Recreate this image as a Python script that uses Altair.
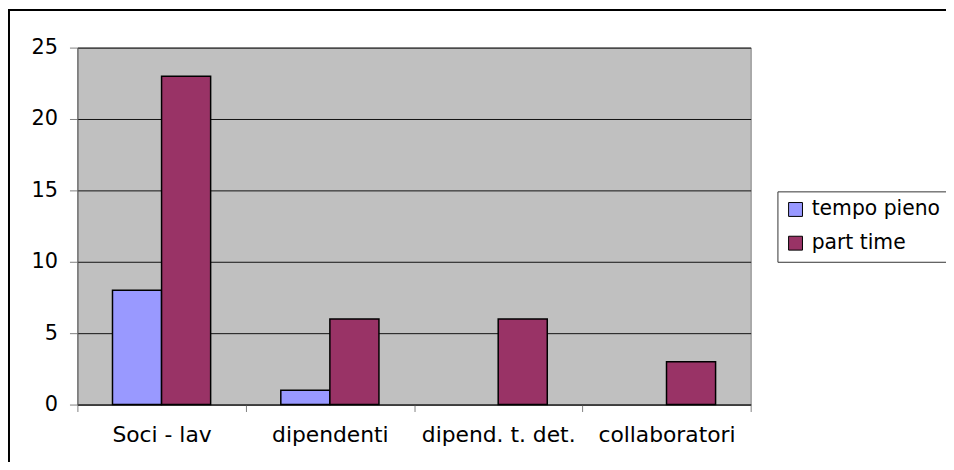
import altair as alt
import pandas as pd

categories = ["Soci - lav", "dipendenti", "dipend. t. det.", "collaboratori"]
series = ["tempo pieno", "part time"]
tempo_pieno = [8, 1, 0, 0]
part_time = [23, 6, 6, 3]
colors = ["#9999FF", "#993366"]
y_ticks = [0, 5, 10, 15, 20, 25]

rows = []
for i, c in enumerate(categories):
    rows.append({"cat": c, "serie": series[0], "val": tempo_pieno[i]})
    rows.append({"cat": c, "serie": series[1], "val": part_time[i]})
df = pd.DataFrame(rows)

FONT = "DejaVu Sans"

bars = alt.Chart(df).mark_bar(stroke="black", strokeWidth=1.5).encode(
    x=alt.X("cat:N", sort=categories, title=None,
            scale=alt.Scale(domain=categories, paddingInner=0, paddingOuter=0),
            axis=alt.Axis(labelAngle=0, tickBand="extent", tickSize=7,
                          tickColor="#808080", domainColor="#222222",
                          labelFont=FONT, labelFontSize=22, labelColor="black",
                          labelPadding=13, grid=False)),
    xOffset=alt.XOffset("serie:N", sort=series,
                        scale=alt.Scale(domain=series, paddingInner=0, paddingOuter=0.715)),
    y=alt.Y("val:Q", title=None,
            scale=alt.Scale(domain=[0, 25], nice=False),
            axis=alt.Axis(values=y_ticks, tickSize=8, tickColor="#808080",
                          domainColor="#606060", gridColor="#111111", gridWidth=1,
                          labelFont=FONT, labelFontSize=21, labelColor="black",
                          labelPadding=12)),
    color=alt.Color("serie:N", sort=series,
                    scale=alt.Scale(domain=series, range=colors),
                    legend=alt.Legend(title=None, orient="none", legendX=706, legendY=145,
                                      padding=8, strokeColor="#333333", fillColor="white",
                                      symbolType="square", symbolSize=196,
                                      symbolStrokeColor="black", symbolStrokeWidth=1,
                                      labelFont=FONT, labelFontSize=20.5, labelColor="black",
                                      labelOffset=6, rowPadding=13, labelLimit=400)),
).transform_filter("datum.val > 0")

frame = alt.Chart(pd.DataFrame({"a": [0]})).mark_rect(
    fill="transparent", stroke="black", strokeWidth=2
).encode(
    x=alt.value(-69), x2=alt.value(1000), y=alt.value(-38), y2=alt.value(700)
)

chart = alt.layer(bars, frame).properties(
    width=679, height=360,
    autosize=alt.AutoSizeParams(type="none"),
    padding={"left": 70, "top": 38, "right": 197, "bottom": 56},
    background="white",
).configure_view(fill="#C0C0C0", stroke="#808080", strokeWidth=1)

chart.save("out.html", embed_options={"renderer": "svg", "actions": False})
